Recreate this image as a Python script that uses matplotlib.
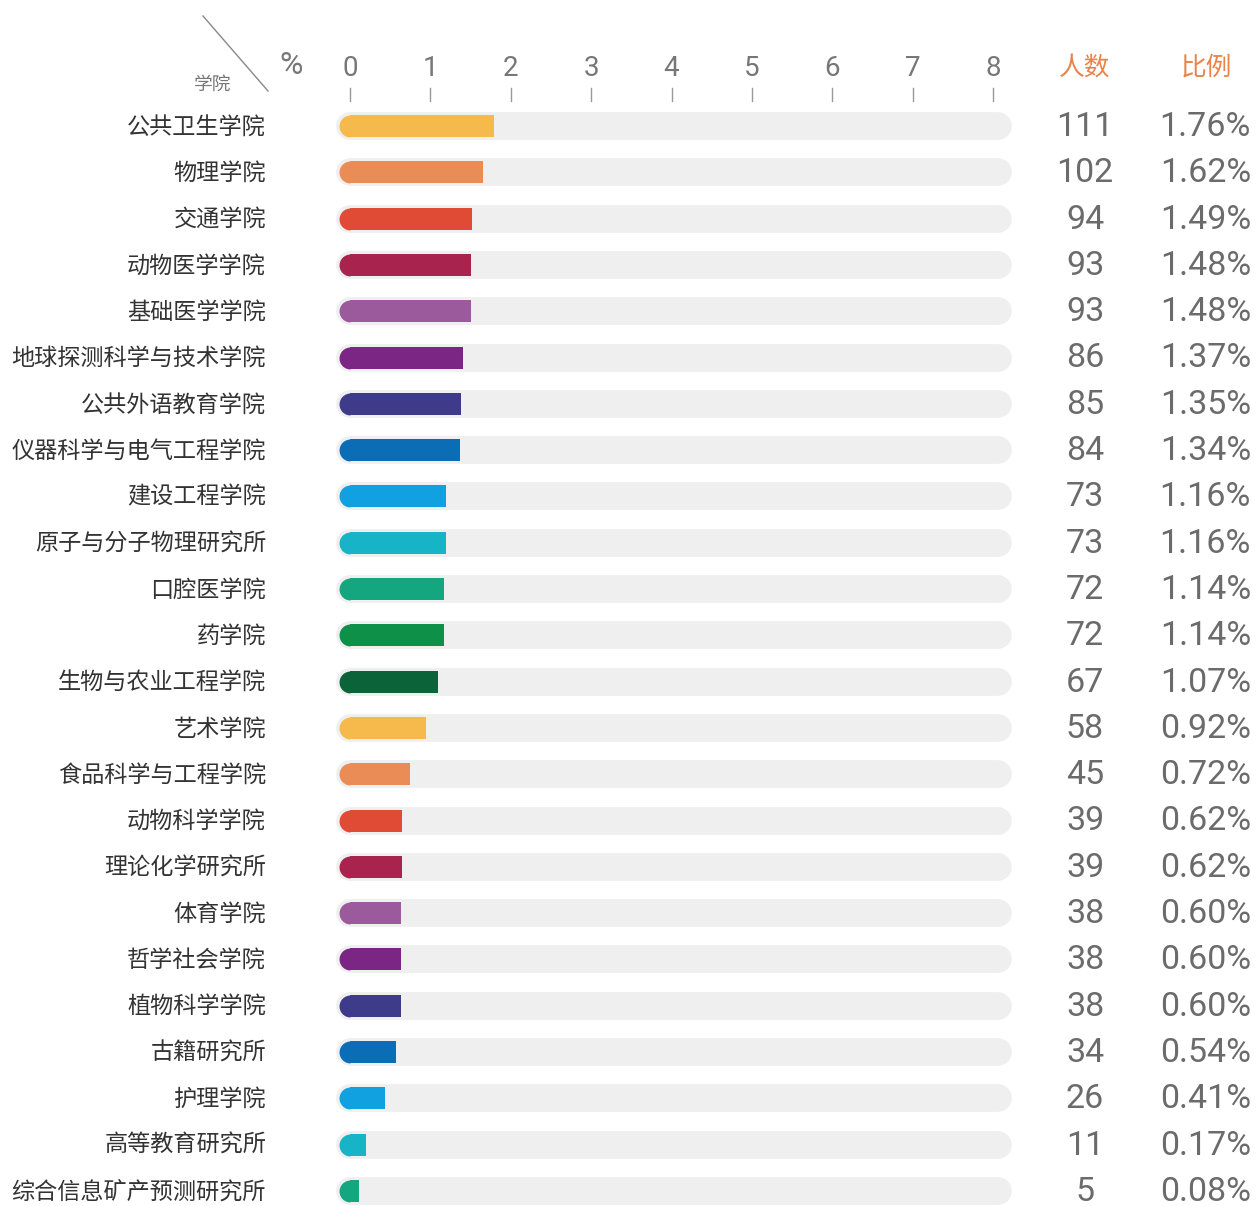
import matplotlib
matplotlib.use('Agg')
import matplotlib.pyplot as plt

colleges = ['公共卫生学院', '物理学院', '交通学院', '动物医学学院', '基础医学学院',
            '地球探测科学与技术学院', '公共外语教育学院', '仪器科学与电气工程学院',
            '建设工程学院', '原子与分子物理研究所', '口腔医学院', '药学院',
            '生物与农业工程学院', '艺术学院', '食品科学与工程学院', '动物科学学院',
            '理论化学研究所', '体育学院', '哲学社会学院', '植物科学学院', '古籍研究所',
            '护理学院', '高等教育研究所', '综合信息矿产预测研究所']
counts = [111, 102, 94, 93, 93, 86, 85, 84, 73, 73, 72, 72, 67, 58, 45, 39, 39,
          38, 38, 38, 34, 26, 11, 5]
pcts = [1.76, 1.62, 1.49, 1.48, 1.48, 1.37, 1.35, 1.34, 1.16, 1.16, 1.14, 1.14,
        1.07, 0.92, 0.72, 0.62, 0.62, 0.60, 0.60, 0.60, 0.54, 0.41, 0.17, 0.08]
palette = ['#F6B94C', '#E98C56', '#E04B36', '#A8244F', '#9B5A9C', '#7B2685',
           '#3E3C8A', '#0C6DB7', '#11A0E0', '#17B3C6', '#14A67F', '#0E9049', '#0B6439']
xticks = [0, 1, 2, 3, 4, 5, 6, 7, 8]

W, H = 1256, 1206
fig = plt.figure(figsize=(W / 100, H / 100), dpi=100)

# axes spans the whole figure height; x from pixel mapping 0 -> 350px, 8 -> 993px
ppu = (993 - 350) / 8
xa, xb = -0.5, 8.5
left_px = 350 + xa * ppu
right_px = 350 + xb * ppu
ax = fig.add_axes([left_px / W, 0, (right_px - left_px) / W, 1])
ax.set_xlim(xa, xb)
row0, step = 126, 46.3
ax.set_ylim((H - row0) / step, -row0 / step)
ax.axis('off')

def py(px):
    return (px - row0) / step

def fy(px):
    return 1 - px / H

cjk = ['Noto Sans CJK SC', 'DejaVu Sans']
num_font = ['Roboto', 'DejaVu Sans']
grey = '#6b6b6b'

for i, (name, c, p) in enumerate(zip(colleges, counts, pcts)):
    col = palette[i % len(palette)]
    y_px = row0 + step * i
    # track
    ax.plot([0.0, 8.06], [i, i], color='#EFEFEF', lw=20, solid_capstyle='round',
            zorder=1, clip_on=False)
    # bar: rounded left cap + square right end
    ax.barh(i, p + 0.03, height=22 / step, left=0, color=col, zorder=2)
    ax.plot([0], [i], marker='o', markersize=15.8, fillstyle='left',
            markerfacecolor=col, markerfacecoloralt='none', markeredgewidth=0,
            zorder=2, clip_on=False)
    fig.text(266 / W, fy(y_px + 1), name, ha='right', va='center',
             fontsize=16.7, color='#333333', family=cjk, weight='medium')
    fig.text(1085 / W, fy(y_px + 1), str(c), ha='center', va='center',
             fontsize=24.5, color=grey, family=num_font)
    fig.text(1251 / W, fy(y_px + 1), f'{p:.2f}%', ha='right', va='center',
             fontsize=24.5, color=grey, family=num_font)

# top scale
for t in xticks:
    ax.text(t, py(68), str(t), ha='center', va='center', fontsize=20,
            color='#777777', family=num_font)
    ax.plot([t, t], [py(88), py(101)], color='#999999', lw=1)
fig.text(291 / W, fy(66), '%', ha='center', va='center', fontsize=23,
         color='#777777', family=num_font)
fig.text(213 / W, fy(84), '学院', ha='center', va='center', fontsize=13.5,
         color='#777777', family=cjk)
fig.add_artist(plt.Line2D([203 / W, 268 / W], [fy(16), fy(91)],
                          color='#888888', lw=1))

orange = '#E8834A'
fig.text(1085 / W, fy(68), '人数', ha='center', va='center', fontsize=18.5,
         color=orange, family=cjk, weight='medium')
fig.text(1206 / W, fy(68), '比例', ha='center', va='center', fontsize=18.5,
         color=orange, family=cjk, weight='medium')

plt.savefig('out.png', dpi=100)
